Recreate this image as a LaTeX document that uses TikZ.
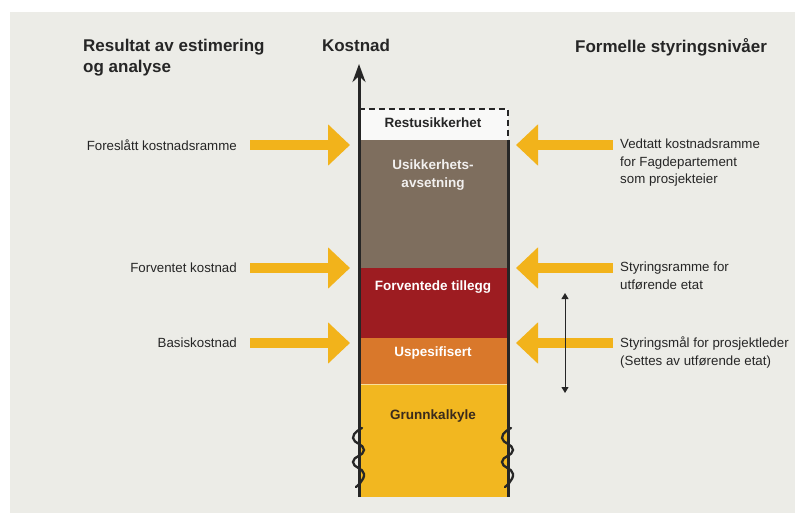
\documentclass[tikz,border=0pt]{standalone}
\usepackage{fontspec}
\setmainfont{Liberation Sans}
\usetikzlibrary{arrows.meta}

\definecolor{panel}{HTML}{ECECE7}
\definecolor{gold}{HTML}{F2B31B}
\definecolor{grunn}{HTML}{F2B720}
\definecolor{uspes}{HTML}{D9782B}
\definecolor{tillegg}{HTML}{9D1C21}
\definecolor{avset}{HTML}{7E6E5E}
\definecolor{ink}{HTML}{262626}
\definecolor{darkbrown}{HTML}{3A2A1C}

\tikzset{
  txt/.style={font=\fontsize{13.3}{17.5}\selectfont,text=ink,inner sep=0pt},
  hdr/.style={font=\bfseries\fontsize{17}{21}\selectfont,text=ink,inner sep=0pt},
  seglbl/.style={font=\bfseries\fontsize{13.5}{18}\selectfont,inner sep=0pt,align=center},
  goldarrow/.style={gold,line width=10pt,-{Triangle[length=22pt 0 0,width=40pt 0 0]}},
  wiggle/.style={ink,line width=2.3pt,line cap=round},
}

\begin{document}
\begin{tikzpicture}[x=1pt,y=-1pt]
		\useasboundingbox (0,0) rectangle (795,513);
		\fill[panel] (10,12) rectangle (795,513);
		% cost column, bottom to top
		\fill[grunn] (359,384) rectangle (508,497);
		\fill[uspes] (359,338) rectangle (508,384);
		\fill[tillegg] (359,268) rectangle (508,338);
		\fill[avset] (359,140) rectangle (508,268);
		\fill[white!70!panel] (359,109) rectangle (508,140);
		\draw[grunn!45!white,line width=1pt] (359,384) -- (508,384);
		\draw[ink,line width=1.6pt,dash pattern=on 6pt off 4pt] (359,109) -- (508,109) -- (508,140);
		\draw[ink,line width=3pt] (508,140) -- (508,497);
		\coordinate (axisBot) at (359,497);
		\coordinate (axisTop) at (359,64);
		\draw[ink,line width=3pt,-{Stealth[length=18pt 0 0,width=13pt 0 0]}] (axisBot) -- (axisTop);
		% break marks on both sides
		\foreach \x in {0,149}{
			\draw[wiggle,xshift=\x] plot[smooth,tension=0.9] coordinates
				{(362,428) (353,438) (364,450) (353,462) (364,474) (356,487)};
		}
		\node[seglbl,text=ink] (rest) at (433,123) {Restusikkerhet};
		\node[seglbl,text=white!90!avset] (usikker) at (433,175) {Usikkerhets-\\avsetning};
		\node[seglbl,text=white] (tilleggLbl) at (433,287) {Forventede tillegg};
		\node[seglbl,text=white] (uspesLbl) at (433,353) {Uspesifisert};
		\node[seglbl,text=darkbrown] (grunnLbl) at (433,416) {Grunnkalkyle};
		% headings
		\node[hdr,anchor=west,align=left] (resultat) at (83,58) {Resultat av estimering\\og analyse};
		\node[hdr] (kostnad) at (356,45) {Kostnad};
		\node[hdr,anchor=west] (formelle) at (575,47) {Formelle styringsnivåer};
		% left and right texts
		\node[txt,anchor=east] (forslag) at (237,145) {Foreslått kostnadsramme};
		\node[txt,anchor=east] (forventet) at (237,268) {Forventet kostnad};
		\node[txt,anchor=east] (basis) at (237,343) {Basiskostnad};
		\node[txt,anchor=north west,align=left] (vedtatt) at (620,139) {Vedtatt kostnadsramme\\for Fagdepartement\\som prosjekteier};
		\node[txt,anchor=north west,align=left] (ramme) at (620,262) {Styringsramme for\\utførende etat};
		\node[txt,anchor=north west,align=left] (maal) at (620,337) {Styringsmål for prosjektleder\\(Settes av utførende etat)};
		% yellow arrows into the column
		\foreach \y [count=\i] in {145,268,343}{
			\coordinate (lt\i) at (250,\y);
			\coordinate (lh\i) at (350,\y);
			\coordinate (rt\i) at (613,\y);
			\coordinate (rh\i) at (516,\y);
			\draw[goldarrow] (lt\i) -- (lh\i);
			\draw[goldarrow] (rt\i) -- (rh\i);
		}
		\coordinate (spanTop) at (565,293);
		\coordinate (spanBot) at (565,393);
		\draw[ink,line width=1pt,{Triangle[length=6pt 0 0,width=7pt 0 0]}-{Triangle[length=6pt 0 0,width=7pt 0 0]}] (spanTop) -- (spanBot);
	\end{tikzpicture}
\end{document}
